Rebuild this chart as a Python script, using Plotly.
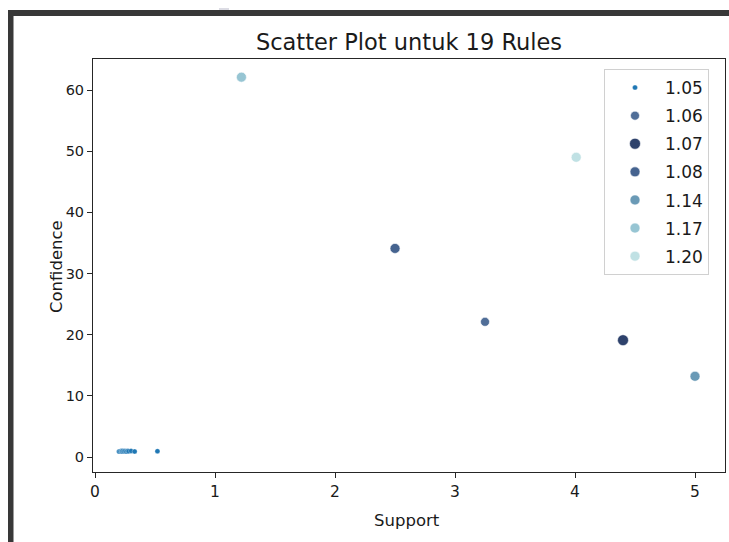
import plotly.graph_objects as go

# ---- data ----
lift_levels = ["1.05", "1.06", "1.07", "1.08", "1.14", "1.17", "1.20"]
level_colors = ["#1f77b4", "#506e98", "#2e426c", "#45638f", "#6a9ab6", "#97c5d3", "#c0e1e4"]
level_sizes = [5, 9, 11, 10, 10, 10, 10]

support_105 = [0.20, 0.21, 0.22, 0.225, 0.23, 0.24, 0.25, 0.26, 0.27, 0.28, 0.30, 0.33, 0.52]
confidence_105 = [0.9, 0.95, 1.0, 0.9, 1.0, 0.95, 1.0, 0.9, 1.0, 0.95, 1.0, 0.9, 0.95]

support_other = {"1.06": [3.25], "1.07": [4.40], "1.08": [2.50],
                 "1.14": [5.00], "1.17": [1.22], "1.20": [4.01]}
confidence_other = {"1.06": [22.1], "1.07": [19.1], "1.08": [34.1],
                    "1.14": [13.2], "1.17": [62.1], "1.20": [49.0]}

x_ticks = [0, 1, 2, 3, 4, 5]
y_ticks = [0, 10, 20, 30, 40, 50, 60]

FONT = "DejaVu Sans"

fig = go.Figure()
for lvl, col, sz in zip(lift_levels, level_colors, level_sizes):
    if lvl == "1.05":
        xs, ys = support_105, confidence_105
    else:
        xs, ys = support_other[lvl], confidence_other[lvl]
    fig.add_trace(go.Scatter(
        x=xs, y=ys, mode="markers", name=lvl, legendgroup=lvl,
        marker=dict(color=col, size=sz, line=dict(color="white", width=0.6 if lvl != "1.05" else 0.3)),
    ))

W, H = 729, 542
L, R, T, B = 93, 725, 59, 472
pw, ph = R - L, B - T

def px(x):
    return (x - L) / pw

def py(y):
    return (B - y) / ph

shapes = [
    # dark screenshot frame (left and top)
    dict(type="rect", xref="paper", yref="paper", x0=px(8), x1=px(13.5), y0=py(560), y1=py(10),
         fillcolor="#383838", line=dict(width=0), layer="above"),
    dict(type="rect", xref="paper", yref="paper", x0=px(8), x1=px(740), y0=py(16), y1=py(10),
         fillcolor="#383838", line=dict(width=0), layer="above"),
    dict(type="rect", xref="paper", yref="paper", x0=px(219), x1=px(229), y0=py(10), y1=py(8),
         fillcolor="#dcdce4", line=dict(width=0), layer="above"),
]

annotations = [
    dict(text="Support", xref="paper", yref="paper", x=px(407), y=py(520),
         xanchor="center", yanchor="middle", showarrow=False, font=dict(size=16.5)),
    dict(text="Confidence", xref="paper", yref="paper", x=px(56), y=py(267),
         xanchor="center", yanchor="middle", showarrow=False, textangle=-90, font=dict(size=16.5)),
]

fig.update_layout(
    width=W, height=H,
    margin=dict(l=L, r=W - R, t=T, b=H - B),
    paper_bgcolor="white", plot_bgcolor="white",
    title=dict(text="Scatter Plot untuk 19 Rules", x=(L + R) / 2 / W, xanchor="center",
               y=1 - 42 / H, yanchor="middle", font=dict(family=FONT, size=22.5, color="#1a1a1a")),
    font=dict(family=FONT, size=15, color="#1a1a1a"),
    xaxis=dict(range=[-0.017, 5.25], tickvals=x_ticks, showgrid=False, zeroline=False,
               showline=True, mirror=True, linecolor="#262626", linewidth=1,
               ticks="outside", ticklen=5, tickcolor="#262626", tickfont=dict(size=15.5)),
    yaxis=dict(range=[-2.45, 65.07], tickvals=y_ticks, showgrid=False, zeroline=False,
               showline=True, mirror=True, linecolor="#262626", linewidth=1,
               ticks="outside", ticklen=5, tickcolor="#262626", tickfont=dict(size=14.5)),
    legend=dict(x=px(604), y=py(69), xanchor="left", yanchor="top",
                bordercolor="#d0d0d0", borderwidth=1, bgcolor="rgba(255,255,255,0.8)",
                font=dict(size=17, color="#1a1a1a"), tracegroupgap=3,
                traceorder="grouped", itemsizing="trace", itemwidth=50),
    shapes=shapes,
    annotations=annotations,
    showlegend=True,
)

fig.write_html("out.html", config={"displayModeBar": False},
               post_script="document.body.style.margin='0';document.body.style.overflow='hidden';")
